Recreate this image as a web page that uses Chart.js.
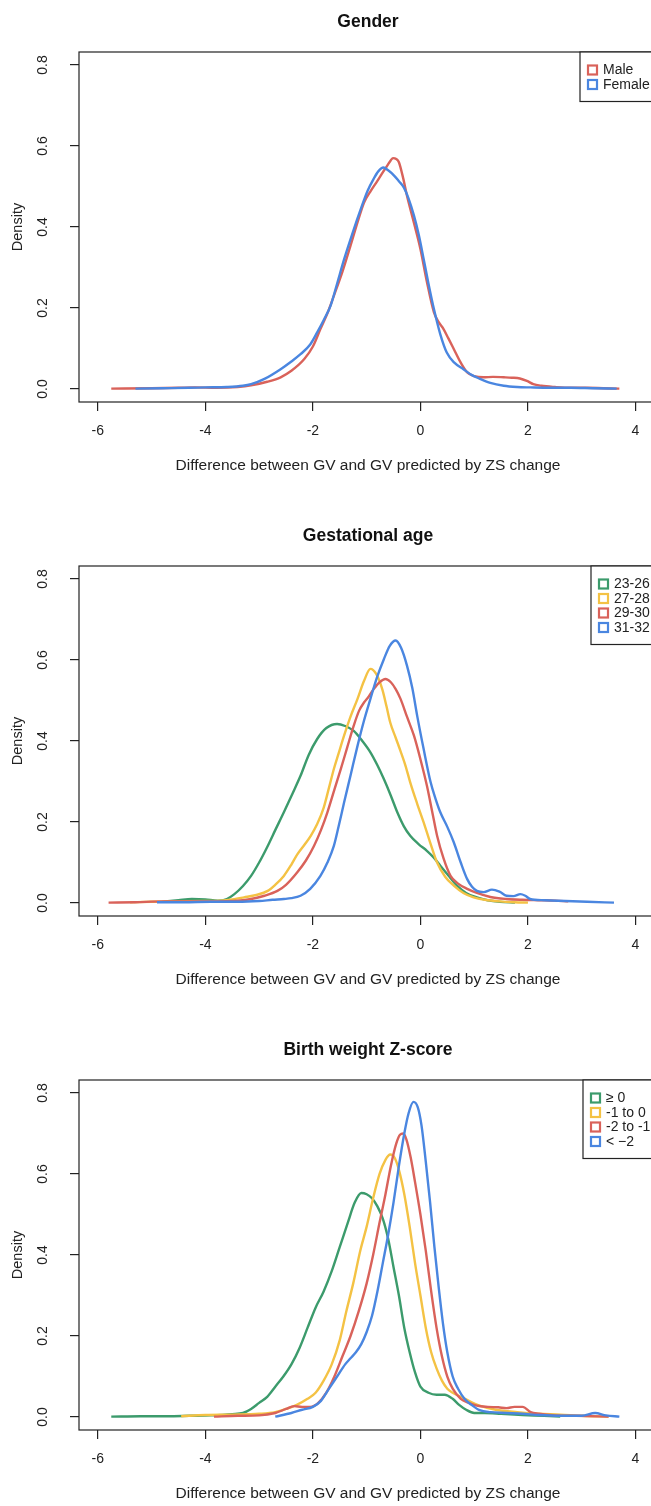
<!DOCTYPE html>
<html>
<head>
<meta charset="utf-8">
<script src="https://cdn.jsdelivr.net/npm/chart.js@4.4.0/dist/chart.umd.min.js"></script>
<style>
  html, body { margin: 0; padding: 0; background: #fff; overflow: hidden; }
  .panel { position: absolute; left: 0; }
</style>
</head>
<body>
<canvas id="gender" class="panel" width="700" height="514" style="top:0px"></canvas>
<canvas id="gest" class="panel" width="700" height="514" style="top:514px"></canvas>
<canvas id="bw" class="panel" width="700" height="514" style="top:1028px"></canvas>
<script>
// axis ticks shared by all three panels
var xTicks = [-6, -4, -2, 0, 2, 4];
var yTicks = [0, 0.2, 0.4, 0.6, 0.8];

// Gender
var genderLabels = ['Male', 'Female'];
var maleX = [-5.75, -5.0, -4.5, -4.2, -3.8, -3.4, -3.15, -2.85, -2.6, -2.4, -2.16, -2.0, -1.86, -1.72, -1.61, -1.45, -1.3, -1.15, -1.05, -0.92, -0.8, -0.7, -0.62, -0.55, -0.51, -0.45, -0.4, -0.32, -0.25, -0.12, 0.0, 0.12, 0.25, 0.34, 0.43, 0.52, 0.62, 0.75, 0.87, 1.0, 1.17, 1.35, 1.55, 1.7, 1.85, 1.98, 2.1, 2.25, 2.5, 2.8, 3.1, 3.4, 3.7];
var maleY = [0.001, 0.002, 0.003, 0.004, 0.003, 0.005, 0.009, 0.018, 0.029, 0.045, 0.074, 0.105, 0.148, 0.19, 0.23, 0.29, 0.354, 0.42, 0.46, 0.49, 0.514, 0.535, 0.551, 0.565, 0.57, 0.568, 0.56, 0.52, 0.477, 0.41, 0.346, 0.265, 0.19, 0.165, 0.148, 0.125, 0.099, 0.065, 0.041, 0.032, 0.029, 0.03, 0.029, 0.028, 0.026, 0.02, 0.012, 0.008, 0.005, 0.003, 0.003, 0.002, 0.001];
var femaleX = [-5.3, -4.8, -4.3, -4.0, -3.6, -3.3, -3.15, -2.9, -2.6, -2.4, -2.23, -2.05, -1.92, -1.8, -1.67, -1.55, -1.42, -1.25, -1.11, -0.98, -0.87, -0.78, -0.69, -0.6, -0.49, -0.4, -0.31, -0.22, -0.12, -0.03, 0.06, 0.15, 0.25, 0.37, 0.49, 0.63, 0.8, 0.95, 1.11, 1.3, 1.55, 1.8, 2.04, 2.4, 2.8, 3.2, 3.65];
var femaleY = [0.001, 0.002, 0.003, 0.004, 0.005, 0.008, 0.012, 0.025, 0.049, 0.068, 0.086, 0.11, 0.14, 0.17, 0.206, 0.26, 0.32, 0.39, 0.444, 0.49, 0.519, 0.538, 0.547, 0.54, 0.527, 0.513, 0.498, 0.47, 0.428, 0.38, 0.321, 0.26, 0.198, 0.135, 0.09, 0.065, 0.049, 0.035, 0.025, 0.015, 0.008, 0.005, 0.004, 0.003, 0.003, 0.002, 0.001];

// Gestational age
var gestLabels = ['23-26', '27-28', '29-30', '31-32'];
var ga2326X = [-4.8, -4.5, -4.25, -4.0, -3.77, -3.6, -3.46, -3.3, -3.15, -3.0, -2.84, -2.7, -2.54, -2.38, -2.23, -2.08, -1.92, -1.75, -1.55, -1.4, -1.24, -1.08, -0.93, -0.8, -0.68, -0.55, -0.43, -0.31, -0.19, -0.03, 0.12, 0.25, 0.37, 0.52, 0.68, 0.85, 1.05, 1.25, 1.48, 1.76];
var ga2326Y = [0.003, 0.007, 0.01, 0.009, 0.006, 0.01, 0.022, 0.042, 0.067, 0.1, 0.141, 0.18, 0.224, 0.27, 0.314, 0.365, 0.405, 0.432, 0.442, 0.437, 0.425, 0.4, 0.372, 0.34, 0.306, 0.265, 0.224, 0.19, 0.166, 0.145, 0.129, 0.112, 0.092, 0.068, 0.043, 0.025, 0.014, 0.007, 0.003, 0.001];
var ga2728X = [-5.4, -5.0, -4.5, -4.0, -3.71, -3.5, -3.28, -3.05, -2.84, -2.7, -2.54, -2.4, -2.29, -2.15, -2.04, -1.92, -1.8, -1.7, -1.61, -1.52, -1.42, -1.3, -1.17, -1.05, -0.93, -0.82, -0.71, -0.63, -0.56, -0.46, -0.37, -0.28, -0.19, -0.06, 0.06, 0.18, 0.31, 0.46, 0.62, 0.8, 0.99, 1.2, 1.48, 1.75, 2.0];
var ga2728Y = [0.002, 0.003, 0.004, 0.005, 0.006, 0.009, 0.014, 0.02, 0.03, 0.045, 0.067, 0.095, 0.12, 0.145, 0.166, 0.195, 0.235, 0.285, 0.331, 0.37, 0.413, 0.46, 0.504, 0.548, 0.578, 0.565, 0.528, 0.485, 0.445, 0.408, 0.375, 0.34, 0.298, 0.245, 0.199, 0.15, 0.1, 0.065, 0.043, 0.025, 0.014, 0.008, 0.004, 0.002, 0.001];
var ga2930X = [-5.8, -5.3, -4.8, -4.3, -3.8, -3.4, -3.15, -2.9, -2.66, -2.5, -2.29, -2.13, -1.98, -1.85, -1.73, -1.6, -1.48, -1.36, -1.24, -1.14, -1.05, -0.96, -0.87, -0.76, -0.65, -0.55, -0.46, -0.37, -0.25, -0.12, 0.0, 0.12, 0.22, 0.31, 0.43, 0.56, 0.7, 0.87, 1.05, 1.3, 1.6, 1.9, 2.2, 2.5, 2.75];
var ga2930Y = [0.001, 0.002, 0.004, 0.004, 0.004, 0.006, 0.01, 0.018, 0.03, 0.045, 0.076, 0.105, 0.141, 0.18, 0.224, 0.28, 0.331, 0.385, 0.438, 0.475, 0.495, 0.51, 0.528, 0.545, 0.553, 0.545, 0.528, 0.504, 0.46, 0.413, 0.355, 0.29, 0.225, 0.166, 0.11, 0.067, 0.048, 0.035, 0.025, 0.015, 0.01, 0.008, 0.007, 0.006, 0.004];
var ga3132X = [-4.9, -4.4, -3.9, -3.4, -3.0, -2.75, -2.54, -2.4, -2.23, -2.05, -1.86, -1.73, -1.61, -1.52, -1.42, -1.3, -1.17, -1.05, -0.93, -0.8, -0.68, -0.57, -0.46, -0.36, -0.25, -0.15, -0.06, 0.06, 0.19, 0.28, 0.37, 0.5, 0.62, 0.75, 0.87, 0.96, 1.05, 1.18, 1.33, 1.47, 1.6, 1.73, 1.86, 1.95, 2.04, 2.3, 2.7, 3.1, 3.6];
var ga3132Y = [0.002, 0.002, 0.003, 0.003, 0.005, 0.008, 0.01, 0.012, 0.018, 0.035, 0.067, 0.1, 0.141, 0.19, 0.248, 0.315, 0.388, 0.45, 0.504, 0.56, 0.602, 0.635, 0.648, 0.63, 0.586, 0.53, 0.462, 0.38, 0.298, 0.258, 0.224, 0.188, 0.15, 0.1, 0.059, 0.04, 0.03, 0.027, 0.033, 0.028, 0.018, 0.017, 0.022, 0.018, 0.01, 0.007, 0.005, 0.003, 0.001];

// Birth weight Z-score
var bwLabels = ['\u2265 0', '-1 to 0', '-2 to -1', '< \u22122'];
var bwGe0X = [-5.75, -5.2, -4.7, -4.3, -3.9, -3.5, -3.3, -3.15, -3.0, -2.85, -2.7, -2.55, -2.4, -2.25, -2.1, -1.95, -1.8, -1.65, -1.5, -1.35, -1.22, -1.1, -1.0, -0.9, -0.8, -0.7, -0.6, -0.5, -0.4, -0.3, -0.2, -0.1, 0.0, 0.15, 0.3, 0.45, 0.6, 0.72, 0.85, 1.0, 1.2, 1.5, 1.9, 2.3, 2.6];
var bwGe0Y = [0.001, 0.002, 0.002, 0.003, 0.004, 0.007, 0.01, 0.02, 0.035, 0.05, 0.075, 0.1, 0.13, 0.17, 0.22, 0.27, 0.31, 0.36, 0.42, 0.48, 0.53, 0.553, 0.55, 0.54, 0.52, 0.49, 0.44, 0.37, 0.3, 0.22, 0.16, 0.11, 0.075, 0.06, 0.055, 0.055, 0.045, 0.03, 0.018, 0.01, 0.01, 0.008, 0.005, 0.003, 0.001];
var bwM1X = [-4.45, -4.0, -3.5, -3.0, -2.7, -2.5, -2.3, -2.1, -1.95, -1.8, -1.65, -1.5, -1.38, -1.25, -1.12, -1.0, -0.88, -0.76, -0.65, -0.56, -0.48, -0.4, -0.3, -0.2, -0.1, 0.0, 0.1, 0.2, 0.3, 0.4, 0.5, 0.6, 0.75, 0.9, 1.1, 1.4, 1.8, 2.2, 2.6, 3.0, 3.5];
var bwM1Y = [0.002, 0.005, 0.006, 0.008, 0.012, 0.02, 0.03, 0.045, 0.06, 0.09, 0.13, 0.19, 0.26, 0.33, 0.41, 0.47, 0.54, 0.6, 0.635, 0.648, 0.64, 0.61, 0.55, 0.47, 0.38, 0.3, 0.22, 0.16, 0.12, 0.09, 0.07, 0.06, 0.05, 0.04, 0.028, 0.018, 0.012, 0.008, 0.006, 0.003, 0.001];
var bwM2X = [-3.84, -3.4, -3.0, -2.7, -2.5, -2.35, -2.2, -2.05, -1.9, -1.75, -1.6, -1.45, -1.3, -1.15, -1.0, -0.88, -0.76, -0.65, -0.55, -0.45, -0.38, -0.32, -0.26, -0.18, -0.1, 0.0, 0.1, 0.2, 0.3, 0.4, 0.5, 0.6, 0.75, 0.9, 1.05, 1.25, 1.45, 1.6, 1.75, 1.9, 2.05, 2.2, 2.5, 2.9, 3.5];
var bwM2Y = [0.001, 0.003, 0.004, 0.01, 0.02, 0.027, 0.025, 0.025, 0.035, 0.06, 0.1, 0.15, 0.2, 0.26, 0.33, 0.4, 0.48, 0.55, 0.62, 0.675, 0.697, 0.7, 0.685, 0.64, 0.58, 0.5, 0.41, 0.31, 0.22, 0.15, 0.1, 0.07, 0.045, 0.035, 0.028, 0.025, 0.024, 0.022, 0.025, 0.025, 0.012, 0.008, 0.004, 0.003, 0.001];
var bwLt2X = [-2.7, -2.4, -2.2, -2.0, -1.85, -1.7, -1.55, -1.4, -1.3, -1.2, -1.1, -1.0, -0.9, -0.8, -0.7, -0.6, -0.5, -0.4, -0.3, -0.22, -0.13, -0.05, 0.02, 0.1, 0.18, 0.26, 0.34, 0.42, 0.5, 0.6, 0.7, 0.82, 0.95, 1.1, 1.3, 1.6, 1.9, 2.2, 2.6, 3.0, 3.25, 3.45, 3.7];
var bwLt2Y = [0.001, 0.01, 0.018, 0.025, 0.04, 0.07, 0.1, 0.13, 0.145, 0.16, 0.18, 0.21, 0.25, 0.31, 0.38, 0.45, 0.53, 0.62, 0.7, 0.75, 0.778, 0.765, 0.72, 0.63, 0.53, 0.42, 0.32, 0.23, 0.16, 0.1, 0.07, 0.045, 0.03, 0.017, 0.012, 0.01, 0.008, 0.005, 0.003, 0.003, 0.01, 0.004, 0.001];

var RED = '#d9625a', BLUE = '#4a86e0', GREEN = '#3c9b6c', YELLOW = '#f4c244';
var FONT = "'Liberation Sans', Arial, sans-serif";

function pts(xs, ys) {
  return xs.map(function (x, i) { return { x: x, y: ys[i] }; });
}

// frame around plot region + legend box in the top-right corner
var rFrame = {
  id: 'rFrame',
  afterDraw: function (chart, args, opts) {
    var ctx = chart.ctx, a = chart.chartArea;
    ctx.save();
    ctx.strokeStyle = '#222';
    ctx.lineWidth = 1.2;
    ctx.strokeRect(a.left, a.top, a.right - a.left, a.bottom - a.top);
    // legend
    var n = opts.labels.length, step = 14.5;
    var h = 18 + (n - 1) * step + 17;
    ctx.fillStyle = '#fff';
    ctx.fillRect(opts.left, a.top, a.right - opts.left, h);
    ctx.strokeRect(opts.left, a.top, a.right - opts.left, h);
    ctx.font = '14px ' + FONT;
    ctx.textBaseline = 'middle';
    ctx.textAlign = 'left';
    for (var i = 0; i < n; i++) {
      var cy = a.top + 18 + i * step;
      ctx.strokeStyle = opts.colors[i];
      ctx.lineWidth = 2.2;
      ctx.strokeRect(opts.left + 8, cy - 4.5, 9, 9);
      ctx.fillStyle = '#222';
      ctx.fillText(opts.labels[i], opts.left + 23, cy + 0.5);
    }
    ctx.restore();
  }
};

function makeChart(id, title, labels, colors, series, legendLeft) {
  var n = series.length;
  var datasets = series.map(function (s, i) {
    return {
      label: labels[i],
      data: pts(s[0], s[1]),
      borderColor: colors[i],
      borderWidth: 2.4,
      pointRadius: 0,
      fill: false,
      cubicInterpolationMode: 'monotone',
      order: n - i
    };
  });
  new Chart(document.getElementById(id), {
    type: 'line',
    data: { datasets: datasets },
    options: {
      responsive: false,
      animation: false,
      layout: { padding: { left: 0, right: 43, top: 0, bottom: 0 } },
      plugins: {
        legend: { display: false },
        tooltip: { enabled: false },
        title: {
          display: true,
          text: title,
          fullSize: false,
          color: '#111',
          font: { family: FONT, size: 17.5, weight: 'bold', lineHeight: 1.2 },
          padding: { top: 11.5, bottom: 19.5 }
        },
        rFrame: { labels: labels, colors: colors, left: legendLeft }
      },
      scales: {
        x: {
          type: 'linear',
          min: -6.35,
          max: 4.4,
          afterBuildTicks: function (s) { s.ticks = xTicks.map(function (v) { return { value: v }; }); },
          afterFit: function (s) { s.height = 112; },
          border: { display: false },
          grid: { drawOnChartArea: false, drawTicks: true, tickLength: 9, tickColor: '#222', lineWidth: 1.2 },
          ticks: { color: '#222', padding: 12, font: { family: FONT, size: 14 }, maxRotation: 0 },
          title: {
            display: true,
            text: 'Difference between GV and GV predicted by ZS change',
            color: '#222',
            font: { family: FONT, size: 15.5, lineHeight: 1.2 },
            padding: { top: 0, bottom: 38.7 }
          }
        },
        y: {
          type: 'linear',
          min: -0.032,
          max: 0.832,
          afterBuildTicks: function (s) { s.ticks = yTicks.map(function (v) { return { value: v }; }); },
          afterFit: function (s) { s.width = 79; },
          border: { display: false },
          grid: { drawOnChartArea: false, drawTicks: true, tickLength: 9, tickColor: '#222', lineWidth: 1.2 },
          ticks: {
            color: '#222', padding: 17, crossAlign: 'center', minRotation: 90, maxRotation: 90,
            font: { family: FONT, size: 14 },
            callback: function (v) { return v.toFixed(1); }
          },
          title: {
            display: true,
            text: 'Density',
            color: '#222',
            font: { family: FONT, size: 14.5, lineHeight: 1.2 },
            padding: { top: 9, bottom: 0 }
          }
        }
      }
    },
    plugins: [rFrame]
  });
}

makeChart('gender', 'Gender', genderLabels, [RED, BLUE],
  [[maleX, maleY], [femaleX, femaleY]], 580);
makeChart('gest', 'Gestational age', gestLabels, [GREEN, YELLOW, RED, BLUE],
  [[ga2326X, ga2326Y], [ga2728X, ga2728Y], [ga2930X, ga2930Y], [ga3132X, ga3132Y]], 591);
makeChart('bw', 'Birth weight Z-score', bwLabels, [GREEN, YELLOW, RED, BLUE],
  [[bwGe0X, bwGe0Y], [bwM1X, bwM1Y], [bwM2X, bwM2Y], [bwLt2X, bwLt2Y]], 583);
</script>
</body>
</html>
